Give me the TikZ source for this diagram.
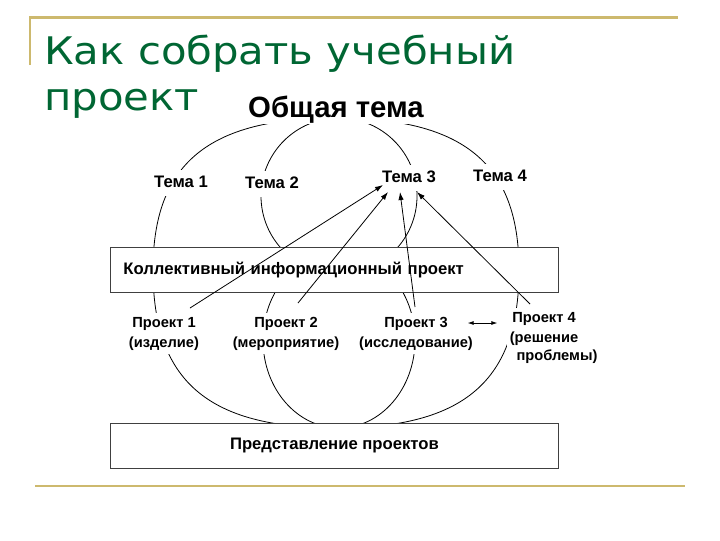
\documentclass[tikz,border=0pt]{standalone}
\usepackage{fontspec}
\setmainfont{Liberation Sans}
\newfontfamily\titlefont[FakeStretch=1.1]{DejaVu Sans}
\usepackage{tikz}
\usetikzlibrary{positioning}
\usetikzlibrary{arrows.meta}
\definecolor{slidegreen}{RGB}{0,102,51}
\definecolor{slidegold}{RGB}{205,185,110}

\begin{document}
\begin{tikzpicture}[x=0.75pt,y=-0.75pt,
	thema/.style={font=\bfseries\fontsize{12.5}{15}\selectfont, fill=white, inner sep=4pt, text height=9pt, text depth=3pt},
	proj/.style={font=\bfseries\fontsize{11}{15}\selectfont, fill=white, inner sep=2pt, text height=9pt, text depth=2.5pt},
	panel/.style={draw=black!75, line width=0.6pt, fill=white, minimum width=336pt, minimum height=33.75pt, font=\bfseries\fontsize{12.5}{14}\selectfont},
	ring/.style={line width=0.6pt},
	link/.style={line width=0.6pt, -{Latex[length=6pt,width=4pt]}},
	twoway/.style={line width=0.6pt, {Latex[length=4.5pt,width=3pt]}-{Latex[length=4.5pt,width=3pt]}},
	slideline/.style={slidegold, line width=1.6pt}]
	
	\useasboundingbox (0,0) rectangle (720,540);
	
	\draw[slideline] (30,65) -- (30,17.5) -- (678,17.5);
	\draw[slideline] (35,486) -- (685,486);
	\node[anchor=base west, inner sep=0pt, text=slidegreen, font=\titlefont\fontsize{28.5}{32}\selectfont] (0title) at (44,64) {Как собрать учебный};
	\node[anchor=base west, inner sep=0pt, text=slidegreen, font=\titlefont\fontsize{28.5}{32}\selectfont] (0title2) at (44,110) {проект};
	
	\draw[ring] (336,118) .. controls (208,118) and (153,164) .. (153,270) .. controls (153,381) and (208,428) .. (336,428) .. controls (464,428) and (519,381) .. (519,270) .. controls (519,164) and (464,118) .. (336,118) -- cycle;
	\draw[ring] (339,196) ellipse [x radius=78, y radius=78];
	\draw[ring] (339,340) ellipse [x radius=76, y radius=88];
	
	\node[panel, anchor=north west, text width=316.5pt, align=left, inner xsep=9.75pt] (2kip) at (110,247) {Коллективный информационный проект};
	\node[panel, anchor=north west] (4pred) at (110,423) {Представление проектов};
	
	\node[anchor=base, fill=white, inner sep=1pt, font=\bfseries\fontsize{22}{26}\selectfont] (0obsh) at (336,117) {Общая тема};
	\node[thema] (1tema1) at (181,183) {Тема 1}; \node[thema] (1tema2) at (272,184) {Тема 2};
	\node[thema] (1tema3) at (409,178) {Тема 3}; \node[thema] (1tema4) at (500,177) {Тема 4};
	
	\node[proj] (3proj1) at (164,323) {Проект 1}; \node[proj, below=-0.5pt of 3proj1] (3izd) {(изделие)};
	\node[proj] (3proj2) at (286,323) {Проект 2}; \node[proj, below=-0.5pt of 3proj2] (3mer) {(мероприятие)};
	\node[proj] (3proj3) at (416,323) {Проект 3}; \node[proj, below=-0.5pt of 3proj3] (3iss) {(исследование)};
	\node[proj] (3proj4) at (544,318) {Проект 4}; \node[proj, below=-0.5pt of 3proj4] (3resh) {(решение};
	\node[proj, below=-2.75pt of 3resh, xshift=9.75pt] (3probl) {проблемы)};
	
	\coordinate (a1) at (190,308); \coordinate (a2) at (298,303); \coordinate (a3) at (415,307); \coordinate (a4) at (530,304);
	\draw[link] (a1) -- ([shift={(-26,7)}]1tema3.center); \draw[link] (a2) -- ([shift={(-21,14)}]1tema3.center);
	\draw[link] (a3) -- ([shift={(-9,14)}]1tema3.center); \draw[link] (a4) -- ([shift={(8,14)}]1tema3.center);
	\draw[twoway] ([xshift=12.75pt]3proj3.east) -- ([xshift=-9pt]3proj4.west |- 3proj3.east);
	
\end{tikzpicture}
\end{document}
